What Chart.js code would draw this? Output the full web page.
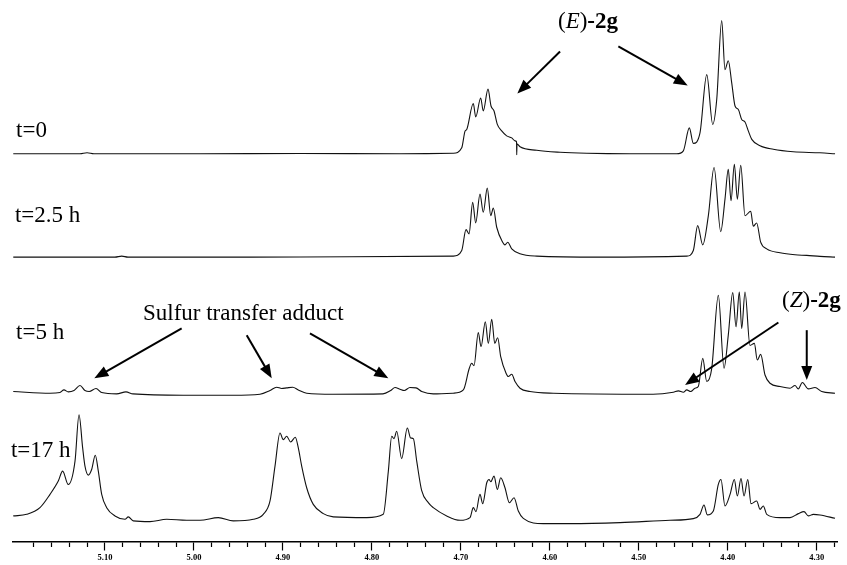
<!DOCTYPE html>
<html>
<head>
<meta charset="utf-8">
<script src="https://cdn.jsdelivr.net/npm/chart.js@4.4.1/dist/chart.umd.min.js"></script>
<style>
  html, body { margin: 0; padding: 0; background: #fff; }
  #wrap { width: 847px; height: 565px; }
</style>
</head>
<body>
<div id="wrap"><canvas id="chart"></canvas></div>
<script>
// chemical shift (ppm) and intensity above each trace's own baseline
const spectrumT0 = [
  [5.2031,0],[5.1281,0],[5.1202,1],[5.1124,0],[4.9932,0],[4.8808,0.3],[4.7684,0],[4.7085,0.5],
  [4.6990,6],[4.6953,22.8],[4.6934,24.5],[4.6860,50.5],[4.6833,37],[4.6777,56],[4.6748,43],
  [4.6695,65],[4.6661,48],[4.6627,43],[4.6590,29.5],[4.6541,23],[4.6485,18],[4.6428,16],
  [4.6391,13],[4.6374,12],[4.6372,-1],[4.6369,10],[4.6335,7],[4.6147,3.5],[4.5885,1.5],
  [4.5585,0.5],[4.5099,0],[4.4574,0],[4.4499,3],[4.4432,26],[4.4387,10.5],[4.4312,21],
  [4.4236,79.5],[4.4169,29.5],[4.4124,54.5],[4.4068,133.8],[4.4031,84.5],[4.3994,93.5],
  [4.3955,71],[4.3918,48],[4.3881,44.5],[4.3843,34.5],[4.3806,32],[4.3769,23],[4.3730,14.5],
  [4.3637,8],[4.3488,4.5],[4.3263,2],[4.2963,1],[4.2794,0]
];
const spectrumT25 = [
  [5.2031,0],[5.0888,0],[5.0812,1],[5.0742,0],[4.9370,0],[4.8246,0.3],[4.7085,1],[4.6990,6.7],
  [4.6942,27.6],[4.6908,23.3],[4.6867,55],[4.6833,34.3],[4.6785,63.3],[4.6748,45],[4.6703,69.3],
  [4.6664,41.6],[4.6635,49.3],[4.6597,30],[4.6530,15],[4.6504,12.3],[4.6473,15],[4.6428,8.3],
  [4.6335,3.3],[4.6147,1],[4.5436,0],[4.4461,1],[4.4387,6.7],[4.4338,31.6],[4.4281,12.3],
  [4.4218,41.7],[4.4154,90],[4.4079,25.6],[4.4031,58.3],[4.3994,88.3],[4.3963,56.6],[4.3926,93.3],
  [4.3892,58.3],[4.3854,92.3],[4.3806,41.6],[4.3742,46],[4.3713,31],[4.3675,34.3],[4.3630,15],
  [4.3562,8.3],[4.3412,4.3],[4.3244,2.3],[4.3112,1.7],[4.2963,0.7],[4.2794,0]
];
const spectrumT5 = [
  [5.2031,1.7],[5.1618,0],[5.1506,0.7],[5.1461,3.3],[5.1413,1.3],[5.1348,2.7],[5.1281,7.7],
  [5.1225,2.7],[5.1177,1.7],[5.1101,4.7],[5.1037,0.7],[5.0869,-0.7],[5.0764,1.3],[5.0685,-0.7],
  [5.0123,-2],[4.9561,-2],[4.9258,-1],[4.9145,2.7],[4.9070,6],[4.9014,4.7],[4.8958,5.3],
  [4.8890,6],[4.8827,3.3],[4.8733,0],[4.8437,-1],[4.7875,-0.7],[4.7788,2.7],[4.7740,5.7],
  [4.7684,4],[4.7636,2.7],[4.7572,5.7],[4.7504,5.3],[4.7440,1.7],[4.7310,-0.7],[4.7085,0],
  [4.6972,3.3],[4.6905,25],[4.6878,30],[4.6852,27.7],[4.6804,61],[4.6773,46.7],[4.6725,71.7],
  [4.6691,50],[4.6653,74.3],[4.6619,50],[4.6586,55.7],[4.6552,36.7],[4.6492,20],[4.6467,16.7],
  [4.6428,19],[4.6391,11.7],[4.6335,5],[4.6223,1.7],[4.5961,0],[4.4840,-1],[4.4612,1],
  [4.4555,2.3],[4.4499,1],[4.4461,3.3],[4.4416,1.7],[4.4368,5],[4.4331,6.7],[4.4281,35],
  [4.4236,11.7],[4.4180,25],[4.4106,98.3],[4.4042,25],[4.3994,58.3],[4.3944,101],[4.3907,66.7],
  [4.3870,101.7],[4.3843,65],[4.3806,101.7],[4.3750,48],[4.3701,50],[4.3668,33.3],[4.3630,39],
  [4.3581,18.3],[4.3525,10],[4.3412,6.7],[4.3300,5],[4.3244,7.7],[4.3207,4.3],[4.3162,10.7],
  [4.3094,4.3],[4.3019,5.7],[4.2944,1.7],[4.2794,0]
];
const spectrumT17 = [
  [5.2031,2.7],[5.1880,4.3],[5.1731,11],[5.1618,24.3],[5.1525,37.7],[5.1476,47.7],[5.1413,34.3],
  [5.1337,57.7],[5.1292,104.3],[5.1251,71],[5.1225,52.7],[5.1188,43.7],[5.1150,49.3],[5.1109,63.7],
  [5.1075,47.7],[5.1037,24.3],[5.0981,11],[5.0888,2.7],[5.0775,-0.7],[5.0738,1.7],[5.0682,-2.3],
  [5.0494,-3],[5.0306,-0.7],[5.0082,-1.7],[4.9932,-1.7],[4.9726,1],[4.9558,-2.3],[4.9333,-0.7],
  [4.9221,4.3],[4.9145,17.7],[4.9089,52.7],[4.9033,86],[4.8996,79.3],[4.8958,82.7],[4.8913,77],
  [4.8861,81.7],[4.8827,71],[4.8789,52.7],[4.8733,31],[4.8659,14.3],[4.8546,5],[4.8434,1.7],
  [4.8058,1],[4.7872,4.3],[4.7815,47.7],[4.7777,82.7],[4.7751,80.3],[4.7721,87.7],[4.7665,60.3],
  [4.7602,91],[4.7564,81],[4.7534,80.3],[4.7496,57.7],[4.7440,28],[4.7366,16],[4.7310,11],
  [4.7159,2.7],[4.7009,-1.7],[4.6897,1],[4.6860,11],[4.6830,7],[4.6785,24.3],[4.6754,15],
  [4.6709,36],[4.6683,39.3],[4.6664,37],[4.6627,42.7],[4.6590,29.3],[4.6552,41],[4.6504,31],
  [4.6455,16],[4.6402,21],[4.6354,7.7],[4.6298,0.3],[4.6073,-5],[4.5773,-5],[4.5211,-4],
  [4.4649,-1.7],[4.4387,0],[4.4312,4.3],[4.4267,13.7],[4.4230,3.7],[4.4162,7.7],[4.4106,34.3],
  [4.4076,39.3],[4.4031,12.7],[4.3974,24.3],[4.3926,39.3],[4.3892,22.7],[4.3851,40.3],[4.3817,22.7],
  [4.3775,39.3],[4.3738,15],[4.3675,17.7],[4.3637,9.3],[4.3600,12.7],[4.3562,4.3],[4.3412,1],
  [4.3300,1],[4.3207,5],[4.3143,7],[4.3094,2.7],[4.3038,4.3],[4.2963,3.7],[4.2794,0.3]
];

const spectra = [spectrumT0, spectrumT25, spectrumT5, spectrumT17];
const traceLabels = ['t=0', 't=2.5 h', 't=5 h', 't=17 h'];

// vertical stacking of the traces (y units), and where the labels sit
const baselines = [389.5, 285.7, 149, 23];
const labelAnchors = [[5.2000, 406], [5.2012, 321], [5.2000, 203], [5.2057, 85]];

// arrows: tail ppm, tail y, tip ppm, tip y
const arrows = [
  [4.5885, 492.3, 4.6365, 450],
  [4.5230, 497.3, 4.4450, 458],
  [5.0138, 214, 5.1120, 164],
  [4.9407, 207.3, 4.9126, 164],
  [4.8696, 209, 4.7815, 164],
  [4.3431, 220, 4.4480, 157.3],
  [4.3112, 212.3, 4.3112, 162.3]
];

const serif = '"Liberation Serif", "Times New Roman", serif';
const isMajor = v => Math.abs(v * 10 - Math.round(v * 10)) < 1e-6;

const annotations = {
  id: 'annotations',
  afterDatasetsDraw(chart) {
    const ctx = chart.ctx, xs = chart.scales.x, ys = chart.scales.y;
    ctx.save();
    ctx.fillStyle = '#000';
    ctx.strokeStyle = '#000';
    ctx.textBaseline = 'alphabetic';
    ctx.font = '23px ' + serif;
    traceLabels.forEach((t, i) => {
      ctx.fillText(t, xs.getPixelForValue(labelAnchors[i][0]), ys.getPixelForValue(labelAnchors[i][1]));
    });
    ctx.fillText('Sulfur transfer adduct', xs.getPixelForValue(5.0573), ys.getPixelForValue(223));

    // (E)-2g and (Z)-2g
    const compound = (letter, ppm, yv) => {
      let x = xs.getPixelForValue(ppm);
      const y = ys.getPixelForValue(yv);
      const parts = [['(', ''], [letter, 'italic '], [')', ''], ['-2g', 'bold ']];
      parts.forEach(([s, style]) => {
        ctx.font = style + '23px ' + serif;
        ctx.fillText(s, x, y);
        x += ctx.measureText(s).width;
      });
    };
    compound('E', 4.5908, 516);
    compound('Z', 4.3390, 236);

    ctx.lineWidth = 2;
    arrows.forEach(([p1, y1, p2, y2]) => {
      const x1 = xs.getPixelForValue(p1), py1 = ys.getPixelForValue(y1);
      const x2 = xs.getPixelForValue(p2), py2 = ys.getPixelForValue(y2);
      const ang = Math.atan2(py2 - py1, x2 - x1);
      const len = 14, half = 5.5;
      const bx = x2 - len * Math.cos(ang), by = py2 - len * Math.sin(ang);
      ctx.beginPath();
      ctx.moveTo(x1, py1);
      ctx.lineTo(bx + 2 * Math.cos(ang), by + 2 * Math.sin(ang));
      ctx.stroke();
      ctx.beginPath();
      ctx.moveTo(x2, py2);
      ctx.lineTo(bx + half * Math.sin(ang), by - half * Math.cos(ang));
      ctx.lineTo(bx - half * Math.sin(ang), by + half * Math.cos(ang));
      ctx.closePath();
      ctx.fill();
    });
    ctx.restore();
  }
};

new Chart(document.getElementById('chart'), {
  type: 'line',
  data: {
    datasets: spectra.map((s, i) => ({
      label: traceLabels[i],
      data: s.map(([ppm, h]) => ({ x: ppm, y: baselines[i] + h })),
      borderColor: '#111',
      borderWidth: 1.1,
      pointRadius: 0,
      fill: false,
      cubicInterpolationMode: 'monotone'
    }))
  },
  options: {
    responsive: true,
    maintainAspectRatio: false,
    animation: false,
    layout: { padding: { left: 13, right: 10, top: 0, bottom: 0 } },
    plugins: { legend: { display: false }, tooltip: { enabled: false } },
    scales: {
      x: {
        type: 'linear',
        reverse: true,
        min: 4.2772,
        max: 5.2034,
        afterBuildTicks: scale => { scale.ticks = scale.ticks.filter(t => t.value < 5.19); },
        border: { display: true, color: '#000', width: 1.5 },
        grid: {
          drawOnChartArea: false,
          tickLength: 9,
          tickColor: '#000',
          tickWidth: 1.2,
          tickBorderDash: ctx => (ctx.tick && isMajor(ctx.tick.value)) ? [] : [4.5, 30]
        },
        ticks: {
          stepSize: 0.02,
          includeBounds: false,
          autoSkip: false,
          maxRotation: 0,
          padding: 3,
          color: '#000',
          font: { family: serif, size: 8.5, weight: 'bold', lineHeight: 1 },
          callback: v => isMajor(v) ? v.toFixed(2) : ''
        }
      },
      y: { display: false, min: 0, max: 544 }
    }
  },
  plugins: [annotations]
});
</script>
</body>
</html>
